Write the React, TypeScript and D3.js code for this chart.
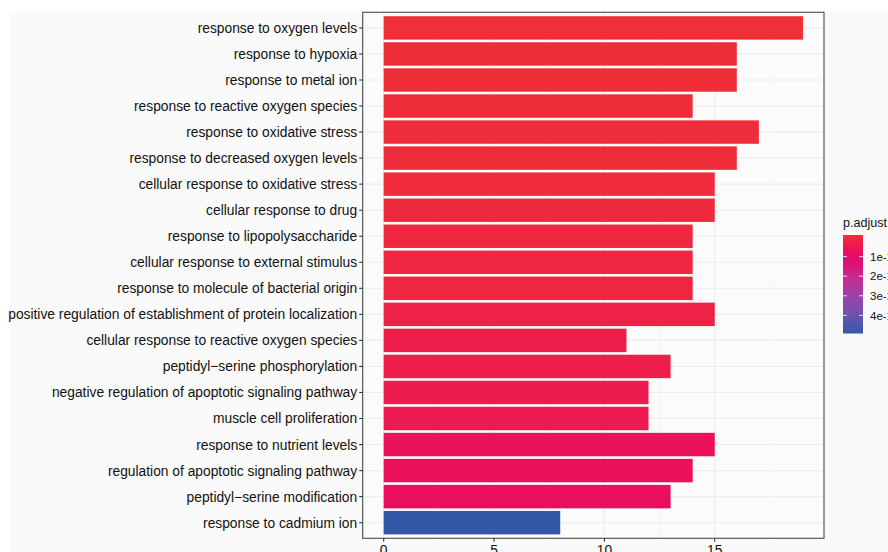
import React from "react";
import * as d3 from "d3";

const categories = [
  "response to oxygen levels",
  "response to hypoxia",
  "response to metal ion",
  "response to reactive oxygen species",
  "response to oxidative stress",
  "response to decreased oxygen levels",
  "cellular response to oxidative stress",
  "cellular response to drug",
  "response to lipopolysaccharide",
  "cellular response to external stimulus",
  "response to molecule of bacterial origin",
  "positive regulation of establishment of protein localization",
  "cellular response to reactive oxygen species",
  "peptidyl\u2212serine phosphorylation",
  "negative regulation of apoptotic signaling pathway",
  "muscle cell proliferation",
  "response to nutrient levels",
  "regulation of apoptotic signaling pathway",
  "peptidyl\u2212serine modification",
  "response to cadmium ion",
];
const counts = [19, 16, 16, 14, 17, 16, 15, 15, 14, 14, 14, 15, 11, 13, 12, 12, 15, 14, 13, 8];
// p.adjust in units of 1e-10 (exponent clipped in reference)
const padj = [0.02, 0.05, 0.06, 0.08, 0.09, 0.1, 0.13, 0.16, 0.2, 0.21, 0.24, 0.35, 0.42, 0.45, 0.48, 0.5, 0.74, 0.77, 0.8, 4.8];
const xTicks = [0, 5, 10, 15];
const xMinor = [2.5, 7.5, 12.5, 17.5];
const legendBreaks = [1, 2, 3, 4];
const legendLabels = ["1e-10", "2e-10", "3e-10", "4e-10"];

const LOW = "#EF3036";
const HIGH = "#3358A8";

export default function App() {
  const pl = 362.7, pr = 824, pt = 12.3, pb = 538.3;
  const x = d3.scaleLinear().domain([-0.95, 19.95]).range([pl, pr]);
  const y = d3.scaleBand<string>().domain(categories).range([pt, pb]).paddingInner(0.1).paddingOuter(0.15);
  const pMin = d3.min(padj)!, pMax = d3.max(padj)!;
  const interp = d3.interpolateHcl(LOW, HIGH);
  const color = d3.scaleLinear<string>().domain([pMin, pMax]).range([LOW, HIGH]).interpolate(d3.interpolateHcl);

  // legend
  const lx = 843, lw = 20, ly0 = 235, ly1 = 333.5;
  const nbin = 20;
  const half = (ly1 - ly0) / nbin / 2;
  const ly = d3.scaleLinear().domain([pMin, pMax]).range([ly0 + half, ly1 - half]);
  const stops = d3.range(0, 1.0001, 0.05);

  const font = "'Liberation Sans', Arial, Helvetica, sans-serif";
  return (
    <svg width={888} height={552} style={{ position: "absolute", left: 0, top: 0, background: "#fff" }} fontFamily={font}>
      <defs>
        <linearGradient id="lg" x1="0" y1="0" x2="0" y2="1">
          {stops.map((s) => (
            <stop key={s} offset={s} stopColor={interp(s)} />
          ))}
        </linearGradient>
      </defs>
      <rect x={0} y={0} width={888} height={552} fill="#fff" />
      <rect x={10} y={12} width={878} height={540} fill="#FAFAFA" />
      <rect x={pl} y={pt} width={pr - pl} height={pb - pt} fill="#FBFBFB" />
      {xMinor.map((v) => (
        <line key={"mn" + v} x1={x(v)} x2={x(v)} y1={pt} y2={pb} stroke="#EFEFEF" strokeWidth={0.55} />
      ))}
      {xTicks.map((v) => (
        <line key={"mj" + v} x1={x(v)} x2={x(v)} y1={pt} y2={pb} stroke="#EDEDED" strokeWidth={1.1} />
      ))}
      {categories.map((c) => (
        <line key={"hg" + c} x1={pl} x2={pr} y1={y(c)! + y.bandwidth() / 2} y2={y(c)! + y.bandwidth() / 2} stroke="#EDEDED" strokeWidth={1.1} />
      ))}
      {categories.map((c, i) => (
        <rect key={"b" + c} x={x(0)} y={y(c)!} width={x(counts[i]) - x(0)} height={y.bandwidth()} fill={color(padj[i])} />
      ))}
      <rect x={pl} y={pt} width={pr - pl} height={pb - pt} fill="none" stroke="#4a4a4a" strokeWidth={1.1} />
      {categories.map((c) => {
        const cy = y(c)! + y.bandwidth() / 2;
        return (
          <g key={"yl" + c}>
            <line x1={pl - 3.5} x2={pl} y1={cy} y2={cy} stroke="#333333" strokeWidth={1.1} />
            <text x={pl - 5.5} y={cy} dy="0.36em" textAnchor="end" fontSize={13.8} fill="#111">{c}</text>
          </g>
        );
      })}
      {xTicks.map((v) => (
        <g key={"xl" + v}>
          <line x1={x(v)} x2={x(v)} y1={pb} y2={pb + 3.5} stroke="#333333" strokeWidth={1.1} />
          <text x={x(v)} y={pb + 17} textAnchor="middle" fontSize={13.8} fill="#111">{v}</text>
        </g>
      ))}
      <text x={lx} y={227} fontSize={12.6} fill="#111">p.adjust</text>
      <rect x={lx} y={ly0} width={lw} height={ly1 - ly0} fill="url(#lg)" />
      {legendBreaks.map((b, i) => (
        <g key={"lb" + b}>
          <line x1={lx} x2={lx + 4} y1={ly(b)} y2={ly(b)} stroke="#fff" strokeOpacity={0.8} strokeWidth={1} />
          <line x1={lx + lw - 4} x2={lx + lw} y1={ly(b)} y2={ly(b)} stroke="#fff" strokeOpacity={0.8} strokeWidth={1} />
          <text x={lx + lw + 7} y={ly(b)} dy="0.36em" fontSize={11.5} fill="#111">{legendLabels[i]}</text>
        </g>
      ))}
    </svg>
  );
}
